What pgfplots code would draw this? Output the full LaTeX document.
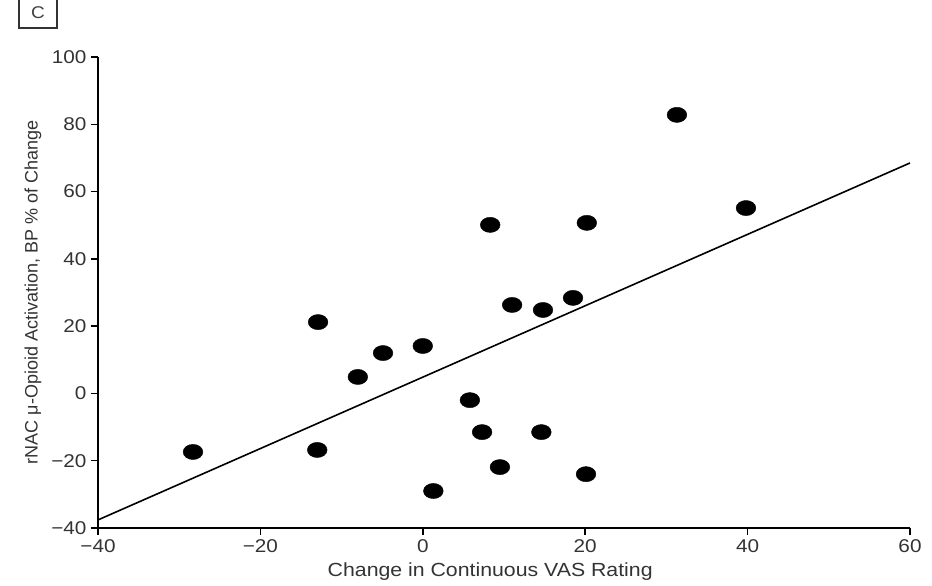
\documentclass[border=0pt]{standalone}
\usepackage{pgfplots}
\pgfplotsset{compat=1.18}
\usepackage{fontspec}
\setmainfont[FakeStretch=1.12]{Liberation Sans}
\newfontfamily\ylfont{Liberation Sans}
\begin{document}
\begin{tikzpicture}
\useasboundingbox (-98pt,-58pt) rectangle (834pt,528pt);
\begin{axis}[
  at={(0,0)}, anchor=south west,
  scale only axis, width=812pt, height=471pt,
  xmin=-40, xmax=60, ymin=-40, ymax=100,
  axis lines*=left,
  axis line style={line width=1.5pt, -},
  xtick={-40,-20,0,20,40,60},
  xticklabels={−40,−20,0,20,40,60},
  ytick={-40,-20,0,20,40,60,80,100},
  yticklabels={−40,−20,0,20,40,60,80,100},
  tick align=outside,
  major tick length=7pt,
  tick style={line width=1.5pt, black},
  ticklabel style={font=\fontsize{18.5}{20}\selectfont, text=black!80},
  xticklabel style={yshift=-1pt},
  yticklabel style={xshift=-1pt},
  xlabel={Change in Continuous VAS Rating},
  ylabel={rNAC μ-Opioid Activation, BP \% of Change},
  xlabel style={at={(axis description cs:0.483,0)}, anchor=center, yshift=-44pt,
    font=\fontsize{19}{21}\selectfont, text=black!80},
  ylabel style={at={(axis description cs:-0.08,0.50)}, anchor=center,
    font=\ylfont\fontsize{18}{20}\selectfont, text=black!80},
  clip=false,
]
\addplot[only marks, mark=*, mark size=7.6pt, mark options={xscale=1.3, fill=black, draw=black}] coordinates {
(-28.3,-17.4) (-12.9,21.2) (-13.0,-16.8) (-8.0,4.9) (-4.9,12.0)
(0.0,14.1) (1.3,-29.0) (5.8,-2.0) (7.3,-11.5) (8.3,50.1)
(9.5,-21.9) (11.0,26.3) (14.8,24.8) (14.6,-11.5) (18.5,28.4)
(20.2,50.7) (20.1,-24.0) (31.3,82.8) (39.8,55.1)
};
\addplot[black, line width=1.6pt] coordinates {(-40,-37.6) (60,68.5)};
\end{axis}
\node[draw=black!80, line width=1.2pt, minimum width=38pt, minimum height=30pt, inner sep=0pt, text=black!75, font=\fontsize{17}{19}\selectfont] at (-60pt,515pt) {C};
\end{tikzpicture}
\end{document}
